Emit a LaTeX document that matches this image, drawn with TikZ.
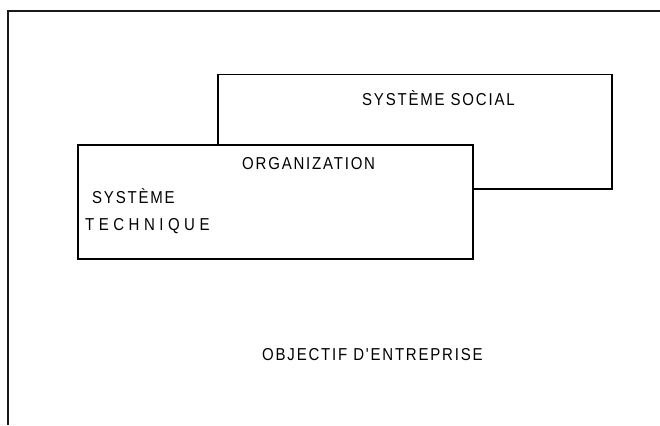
\documentclass[tikz,border=0pt]{standalone}
\usepackage{fontspec}
\usepackage{graphicx}
\setmainfont{Liberation Sans}
\newfontfamily\labelfont[LetterSpace=12]{Liberation Sans}
\newfontfamily\widelabelfont[LetterSpace=30]{Liberation Sans}
% slightly tall, narrow lettering
\newcommand{\tallcaps}[1]{\scalebox{1}[1.15]{#1}}
\begin{document}
\begin{tikzpicture}[x=1pt,y=-1pt,
  frame/.style={line width=2pt,black!90},
  panel/.style={draw,line width=1.5pt,fill=white,rectangle,inner sep=0pt,anchor=north west},
  caption/.style={font=\labelfont\fontsize{15}{17}\selectfont,inner sep=0pt,anchor=base west},
  widecaption/.style={caption,font=\widelabelfont\fontsize{15}{17}\selectfont}]
\useasboundingbox (0,0) rectangle (660,425);
% open outer frame: top and left edges only
\coordinate (ftl) at (8,11);
\coordinate (ftr) at (660,11);
\coordinate (fbl) at (8,425);
\draw[frame] (ftr) -- (ftl) -- (fbl);
% social system (behind)
\node[panel,minimum width=394pt,minimum height=114pt] (social) at (217,74) {};
% organization (front)
\node[panel,minimum width=395pt,minimum height=114pt] (org) at (77,144) {};
\node[caption] (tsocial) at (362,106) {\tallcaps{SYSTÈME SOCIAL}};
\node[caption] (torg) at (242,169) {\tallcaps{ORGANIZATION}};
\node[caption] (tsys) at (92,203) {\tallcaps{SYSTÈME}};
\node[widecaption] (ttech) at (85,230) {\tallcaps{TECHNIQUE}};
\node[caption] (tobj) at (262,360) {\tallcaps{OBJECTIF D'ENTREPRISE}};
\end{tikzpicture}
\end{document}
